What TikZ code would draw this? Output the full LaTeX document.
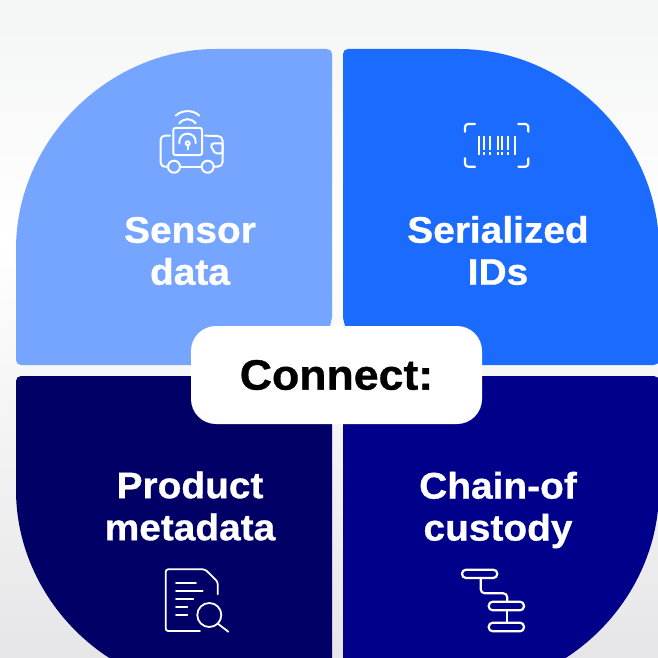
\documentclass[tikz,border=0pt]{standalone}
\usepackage{fontspec}
\setmainfont[BoldFeatures={FakeStretch=1.05,FakeBold=0.8}]{Liberation Sans}
\definecolor{bgA}{HTML}{F4F5F5}
\definecolor{bgB}{HTML}{FFFFFF}
\definecolor{bgC}{HTML}{E6E6E8}
\definecolor{qTL}{HTML}{75A5FF}
\definecolor{qTR}{HTML}{1C6BFF}
\definecolor{qBL}{HTML}{000066}
\definecolor{qBR}{HTML}{00008B}
\tikzset{
  label text/.style={text=white,align=center,inner sep=0pt,font=\bfseries\fontsize{37}{42}\selectfont},
  icon/.style={draw=white,line width=2pt,line cap=round,line join=round},
  thin icon/.style={icon,line width=1.8pt},
  bar/.style={draw=white,line width=2pt}
}
\begin{document}
\begin{tikzpicture}[x=1pt,y=-1pt]
\useasboundingbox (0,0) rectangle (658,658);
\clip (0,0) rectangle (658,658);
\shade[top color=bgA,bottom color=bgB] (0,0) rectangle (658,240);
\shade[top color=bgB,bottom color=bgC] (0,240) rectangle (658,658);
% quadrants
\fill[qTL,rounded corners=5pt] (16,254) .. controls (16,140.8) and (107.8,49) .. (221,49) -- (332,49) -- (332,312) {[sharp corners] .. controls (332,318) and (331,322) .. (330,326)} -- (330,365) -- (16,365) -- cycle;
\fill[qTR,rounded corners=5pt] (659,254) .. controls (659,140.8) and (567.2,49) .. (454,49) -- (343,49) -- (343,312) {[sharp corners] .. controls (343,318) and (344,322) .. (345,326)} -- (345,365) -- (659,365) -- cycle;
\fill[qBL,rounded corners=5pt] (16,485) .. controls (16,598.2) and (107.8,690) .. (221,690) -- (332,690) -- (332,376) -- (16,376) -- cycle;
\fill[qBR,rounded corners=5pt] (659,485) .. controls (659,598.2) and (567.2,690) .. (454,690) -- (343,690) -- (343,376) -- (659,376) -- cycle;
% labels
\node[label text] (sensor) at (190,251) {Sensor\\data};
\node[label text] (serial) at (498,250.5) {Serialized\\IDs};
\node[label text] (product) at (190,506) {Product\\metadata};
\node[label text] (chain) at (498,510) {Chain-of\\custody};
\node[fill=white,rounded corners=25pt,minimum width=291pt,minimum height=98pt,inner sep=0pt,text=black,font=\bfseries\fontsize{42.5}{48}\selectfont] (connect) at (336.5,375) {\raisebox{-1pt}{Connect:}};
% truck icon
\draw[icon] (175.7,115.7) .. controls (182,109.6) and (193.4,109.6) .. (199.3,115.7);
\draw[icon] (179.3,123.3) .. controls (184,117.8) and (191,117.8) .. (195.7,123.3);
\draw[icon,rounded corners=2pt] (173.3,128) rectangle (202,155);
\draw[icon] (179.3,143.3) .. controls (178,130.5) and (197,130.5) .. (195.7,143.3);
\draw[icon] (187.7,143.3) circle (2);
\draw[icon] (187.7,145.3) -- (187.7,149.5);
\draw[icon,rounded corners=4pt] (170,135.7) -- (160.7,135.7) -- (160.7,166.7) -- (168,166.7);
\draw[icon] (174,166.7) circle (6);
\draw[icon] (207.7,166.7) circle (6);
\draw[icon] (180,166.7) -- (201.7,166.7);
\draw[icon,rounded corners=5pt] (213.7,166.7) -- (222.7,166.7) -- (222.7,136) -- (205,135.7);
\draw[icon,rounded corners=1.5pt] (210.7,145.7) -- (212.5,143.3) -- (222.7,143.3) -- (222.7,153.3) -- (215,153.3) -- cycle;
% barcode icon
\draw[icon,line width=2.2pt,rounded corners=3pt] (465,131.7) -- (465,124) -- (475,124);
\draw[icon,line width=2.2pt,rounded corners=3pt] (518.3,124) -- (528.3,124) -- (528.3,131.7);
\draw[icon,line width=2.2pt,rounded corners=3pt] (465,158.3) -- (465,166.7) -- (475,166.7);
\draw[icon,line width=2.2pt,rounded corners=3pt] (518.3,166.7) -- (528.3,166.7) -- (528.3,158.3);
\draw[bar,line width=1.5pt] (479,136) -- (479,155);
\draw[bar,line width=1.5pt] (515,136) -- (515,155);
\foreach \x in {484.3,490,497.7,502.3,508.3}{
  \draw[bar] (\x,136) -- (\x,150);
  \draw[bar] (\x,152.3) -- (\x,154.6);
}
% document icon
\draw[thin icon,rounded corners=2.5pt] (217.7,594.3) -- (217.7,581.7) -- (205,569.3) -- (165.7,569.3) -- (165.7,631) -- (200,631);
\draw[thin icon] (176,583.3) -- (196,583.3) (176,591) -- (202.7,591) (176,599.3) -- (193.3,599.3) (176,607.3) -- (187.3,607.3) (176,615) -- (187.3,615);
\draw[thin icon] (209.3,615) circle (12);
\draw[thin icon] (218.3,624) -- (228.3,631.7);
% flow icon
\draw[icon,line width=2.2pt,rounded corners=4pt] (462,569.7) rectangle (497.3,578);
\draw[icon,line width=2.2pt,rounded corners=4pt] (488.7,601.7) rectangle (524,610.3);
\draw[icon,line width=2.2pt,rounded corners=4pt] (488.7,622.7) rectangle (524,631.3);
\draw[icon,line width=2.2pt,rounded corners=4pt] (480.7,578) -- (480.7,593.3) -- (507.3,593.3) -- (507.3,601.7);
\draw[icon,line width=2.2pt] (507.3,610.3) -- (507.3,622.7);
\end{tikzpicture}
\end{document}
